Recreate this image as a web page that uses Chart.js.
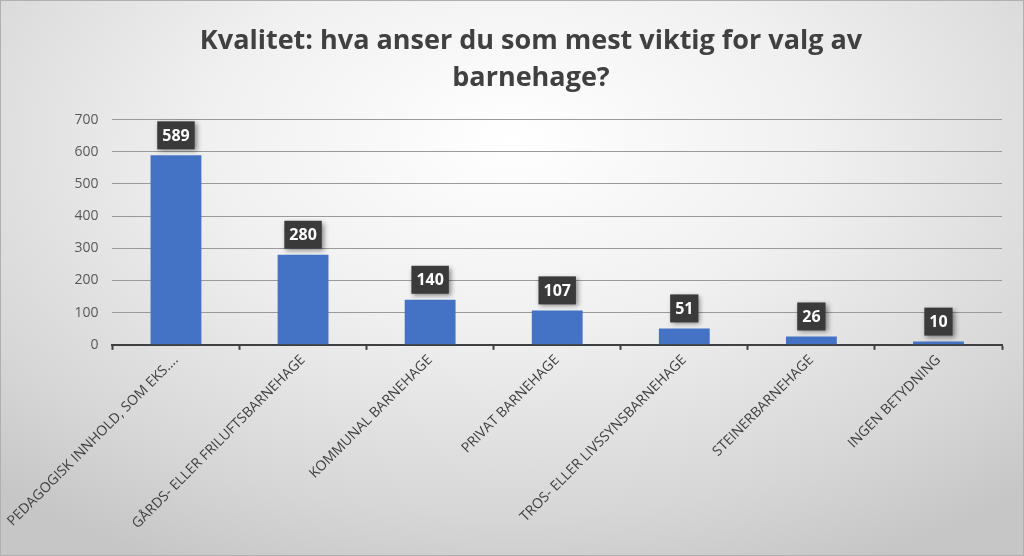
<!DOCTYPE html>
<html>
<head>
<meta charset="utf-8">
<script src="https://cdn.jsdelivr.net/npm/chart.js@4.4.1/dist/chart.umd.min.js"></script>
<style>
  html, body { margin: 0; padding: 0; }
  body { width: 1024px; height: 556px; overflow: hidden; }
  .wrap {
    position: relative; width: 1024px; height: 556px;
    box-shadow: inset 0 0 0 1px #b0b0b0;
    background: radial-gradient(ellipse 75% 85% at 50% 25%, #ffffff 0%, #f0f0f0 40%, #d6d6d6 80%, #c6c6c6 100%);
  }
  canvas { display: block; }
</style>
</head>
<body>
<div class="wrap"><canvas id="bar-chart" width="1024" height="556"></canvas></div>
<script>
const categories = [
  "PEDAGOGISK INNHOLD, SOM EKS....",
  "GÅRDS- ELLER FRILUFTSBARNEHAGE",
  "KOMMUNAL BARNEHAGE",
  "PRIVAT BARNEHAGE",
  "TROS- ELLER LIVSSYNSBARNEHAGE",
  "STEINERBARNEHAGE",
  "INGEN BETYDNING"
];
const values = [589, 280, 140, 107, 51, 26, 10];
const titleLines = ["Kvalitet: hva anser du som mest viktig for valg av", "barnehage?"];

// dark boxed value labels above each bar
const valueBoxes = {
  id: "valueBoxes",
  afterDatasetsDraw(chart) {
    const ctx = chart.ctx;
    const meta = chart.getDatasetMeta(0);
    ctx.save();
    ctx.font = "bold 16px 'Open Sans'";
    ctx.textAlign = "center";
    ctx.textBaseline = "middle";
    meta.data.forEach((bar, i) => {
      const txt = String(values[i]);
      const w = ctx.measureText(txt).width + 10;
      const h = 28;
      const x = bar.x - w / 2;
      const y = bar.y - 6 - h;
      ctx.shadowColor = "rgba(0,0,0,0.45)";
      ctx.shadowBlur = 5;
      ctx.shadowOffsetX = 2;
      ctx.shadowOffsetY = 2;
      ctx.fillStyle = "#3a3a3a";
      ctx.fillRect(x, y, w, h);
      ctx.shadowColor = "transparent";
      ctx.fillStyle = "#ffffff";
      ctx.fillText(txt, bar.x, y + h / 2 + 1);
    });
    ctx.restore();
  }
};

const ctx = document.getElementById("bar-chart").getContext("2d");
new Chart(ctx, {
  type: "bar",
  data: {
    labels: categories,
    datasets: [{
      data: values,
      backgroundColor: "#4472C4",
      borderWidth: 0,
      barPercentage: 0.4,
      categoryPercentage: 1.0
    }]
  },
  options: {
    responsive: false,
    animation: false,
    layout: { padding: { left: 60, right: 22, top: 22, bottom: 22 } },
    plugins: {
      legend: { display: false },
      tooltip: { enabled: false },
      title: {
        display: true,
        text: titleLines,
        color: "#404040",
        font: { family: "'Open Sans'", size: 27, weight: "bold", lineHeight: 1.4 },
        padding: { top: 0, bottom: 22 }
      }
    },
    scales: {
      x: {
        offset: true,
        grid: {
          offset: true,
          drawOnChartArea: false,
          drawTicks: true,
          tickLength: 5,
          tickWidth: 2,
          tickColor: "#404040"
        },
        border: { color: "#404040", width: 2 },
        ticks: {
          autoSkip: false,
          maxRotation: 45,
          minRotation: 45,
          color: "#404040",
          font: { family: "'Open Sans'", size: 14 },
          padding: 2
        }
      },
      y: {
        min: 0,
        max: 700,
        ticks: {
          stepSize: 100,
          color: "#595959",
          font: { family: "'Open Sans'", size: 14 },
          padding: 14
        },
        grid: { color: "#9a9a9a", lineWidth: 1, drawTicks: false },
        border: { display: false }
      }
    }
  },
  plugins: [valueBoxes]
});
</script>
</body>
</html>
